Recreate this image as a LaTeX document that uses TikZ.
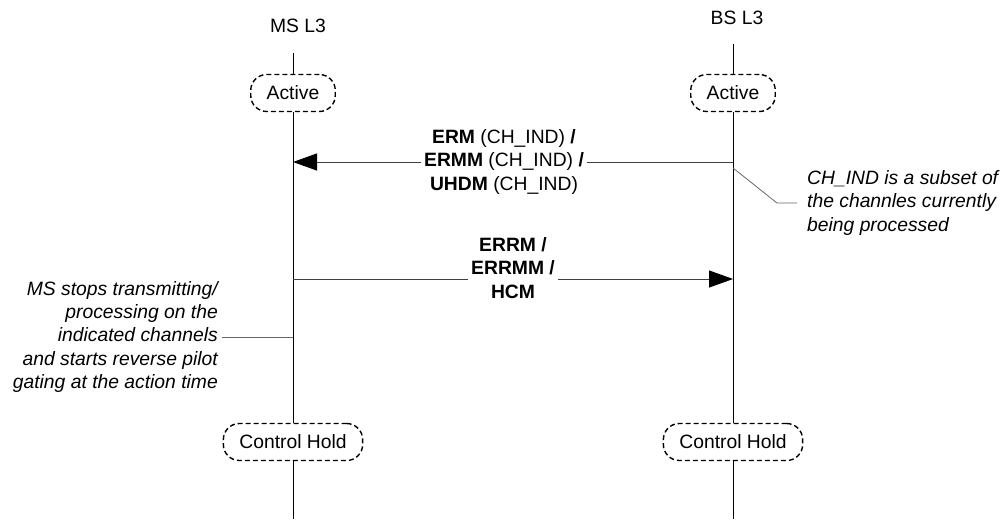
\documentclass[tikz,border=0pt]{standalone}
\usepackage{fontspec}
\setmainfont{Liberation Sans}
\usetikzlibrary{arrows.meta}
\tikzset{
  state/.style={draw, line width=1.4pt, dash pattern=on 5pt off 3pt, rounded corners=16pt,
    minimum height=37pt, inner xsep=16pt},
  life/.style={draw, line width=1pt},
  msg/.style={draw=black!75, line width=1pt, -{Triangle[length=24pt,width=17pt,color=black]}},
  lbl/.style={fill=white, inner sep=3pt, align=center},
  note/.style={font=\fontsize{19.3pt}{23.3pt}\selectfont\itshape, inner sep=0pt},
  lead/.style={draw=black!60, line width=0.8pt}
}
\begin{document}
\begin{tikzpicture}[x=1pt, y=-1pt, font=\fontsize{19.3pt}{23.3pt}\selectfont]
  \useasboundingbox (0,0) rectangle (1008,519);
  \node (msL3) at (298,26) {MS L3};
  \node (bsL3) at (737,18) {BS L3};
  \coordinate (msTop) at (293,53);
  \coordinate (bsTop) at (733,44);
  \coordinate (msEnd) at (293,519);
  \coordinate (bsEnd) at (733,519);
  \foreach \n/\x in {ms/293, bs/733} {
    \node[state] (\n-act) at (\x,93) {Active};
    \node[state] (\n-hold) at (\x,442) {Control Hold};
  }
  \draw[life] (msTop) -- (ms-act) -- (ms-hold) -- (msEnd);
  \draw[life] (bsTop) -- (bs-act) -- (bs-hold) -- (bsEnd);

  \coordinate (bsErm) at (733,162);
  \coordinate (msErm) at (293,162);
  \draw[msg] (bsErm) -- (msErm);
  \node[lbl] (ermLbl) at (504,162) {\textbf{ERM} (CH\_IND) \textbf{/}\\\textbf{ERMM} (CH\_IND) \textbf{/}\\\textbf{UHDM} (CH\_IND)};

  \coordinate (msErr) at (293,279);
  \coordinate (bsErr) at (733,279);
  \draw[msg] (msErr) -- (bsErr);
  \node[lbl] (errLbl) at (513,268) {\textbf{ERRM /}\\\textbf{ERRMM /}\\\textbf{HCM}};

  \node[note, align=right, anchor=east] (msNote) at (218,337) {MS stops transmitting/\\processing on the\\indicated channels\\and starts reverse pilot\\gating at the action time};
  \draw[lead] ([xshift=4pt]msNote.east) -- (msNote.east -| msTop);

  \node[note, align=left, anchor=west] (bsNote) at (807,203) {CH\_IND is a subset of\\the channles currently\\being processed};
  \coordinate (bsNoteTip) at (733,168);
  \draw[lead] (bsNoteTip) -- ++(44,35) -- ([xshift=-10pt]bsNote.west);
\end{tikzpicture}
\end{document}
